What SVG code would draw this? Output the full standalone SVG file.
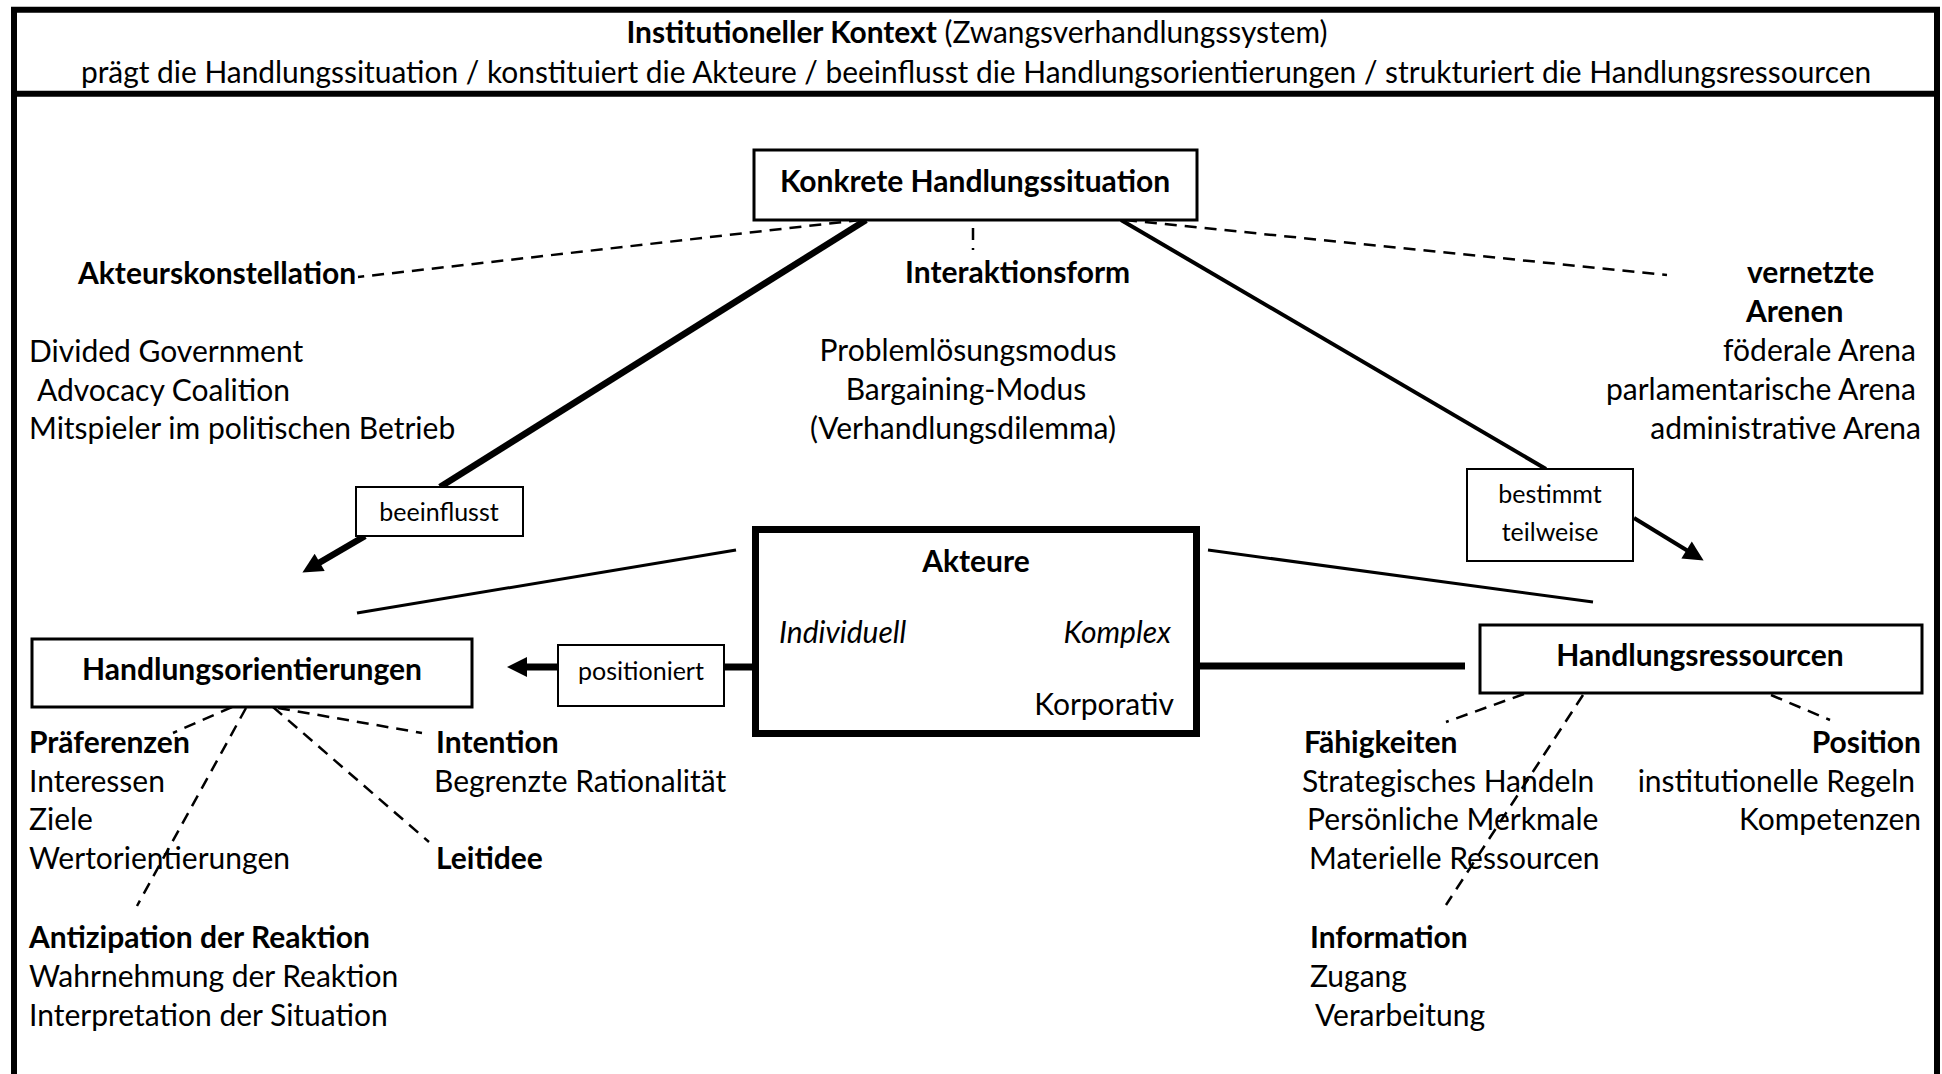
<svg xmlns="http://www.w3.org/2000/svg" width="1942" height="1074" viewBox="0 0 1942 1074">
<style>
text{font-family:Lato,"Liberation Sans",sans-serif;font-size:30px;fill:#000}
.b{font-weight:bold}
.i{font-style:italic}
.h{font-size:29.9px}
.s{font-size:25px}
.m{text-anchor:middle}
.e{text-anchor:end}
.box{fill:#fff;stroke:#000;stroke-width:3}
.lab{fill:#fff;stroke:#000;stroke-width:2}
.ln{fill:none;stroke:#000}
.d{fill:none;stroke:#000;stroke-width:2.5;stroke-dasharray:12 8}
</style>
<defs>
<marker id="ah" viewBox="0 0 10 10" refX="3" refY="5" markerWidth="24" markerHeight="20" markerUnits="userSpaceOnUse" orient="auto">
<path d="M0,0 L10,5 L0,10 z" fill="#000"/>
</marker>
</defs>
<rect width="1942" height="1074" fill="#fff"/>
<g id="frame">
<path class="ln" stroke-width="6" d="M14,1080 V9.7 H1937 V1080"/>
<line class="ln" stroke-width="6" x1="14" y1="93.7" x2="1937" y2="93.7"/>
<text class="h m" x="977" y="43"><tspan class="b">Institutioneller Kontext</tspan> (Zwangsverhandlungssystem)</text>
<text class="h m" x="976" y="83">prägt die Handlungssituation / konstituiert die Akteure / beeinflusst die Handlungsorientierungen / strukturiert die Handlungsressourcen</text>
</g>
<g id="connectors">
<line class="ln" stroke-width="6.5" x1="866" y1="220" x2="440" y2="487"/>
<line class="ln" stroke-width="6.5" x1="365" y1="536" x2="314.5" y2="565.5" marker-end="url(#ah)"/>
<line class="ln" stroke-width="4" x1="1121" y1="220" x2="1546" y2="469"/>
<line class="ln" stroke-width="4" x1="1634" y1="518" x2="1691.7" y2="553.2" marker-end="url(#ah)"/>
<line class="ln" stroke-width="7" x1="752" y1="667" x2="724" y2="667"/>
<line class="ln" stroke-width="7" x1="557" y1="667" x2="521" y2="667" marker-end="url(#ah)"/>
<line class="ln" stroke-width="7" x1="1200" y1="666" x2="1465" y2="666"/>
<line class="ln" stroke-width="3" x1="736" y1="550" x2="357" y2="613"/>
<line class="ln" stroke-width="3" x1="1208" y1="550" x2="1593" y2="602"/>
<line class="d" x1="861" y1="220" x2="358" y2="277"/>
<line class="d" x1="1125" y1="220" x2="1667" y2="275"/>
<line class="d" x1="973" y1="228" x2="973" y2="250"/>
<line class="d" x1="232" y1="707" x2="173" y2="733"/>
<line class="d" x1="246" y1="708" x2="137" y2="906"/>
<line class="d" x1="273" y1="707" x2="429" y2="842"/>
<line class="d" x1="278" y1="708" x2="422" y2="733"/>
<line class="d" x1="1524" y1="694" x2="1446" y2="722"/>
<line class="d" x1="1583" y1="695" x2="1446" y2="905"/>
<line class="d" x1="1771" y1="695" x2="1830" y2="720"/>
</g>
<g id="handlungssituation">
<rect class="box" x="754" y="150" width="443" height="70"/>
<text class="b m" x="975" y="192">Konkrete Handlungssituation</text>
</g>
<g id="akteurskonstellation">
<text class="b" x="78" y="284">Akteurskonstellation</text>
<text x="29" y="362">Divided Government</text>
<text x="37" y="401">Advocacy Coalition</text>
<text x="29" y="439">Mitspieler im politischen Betrieb</text>
</g>
<g id="interaktionsform">
<text class="b" x="905" y="283">Interaktionsform</text>
<text class="m" x="968" y="361">Problemlösungsmodus</text>
<text class="m" x="966" y="400">Bargaining-Modus</text>
<text class="m" x="963" y="439">(Verhandlungsdilemma)</text>
</g>
<g id="arenen">
<text class="b" x="1747" y="283">vernetzte</text>
<text class="b" x="1746" y="322">Arenen</text>
<text class="e" x="1916" y="361">föderale Arena</text>
<text class="e" x="1916" y="400">parlamentarische Arena</text>
<text class="e" x="1921" y="439">administrative Arena</text>
</g>
<g id="label-beeinflusst">
<rect class="lab" x="356" y="487" width="167" height="49"/>
<text class="s m" x="439" y="521">beeinflusst</text>
</g>
<g id="label-bestimmt">
<rect class="lab" x="1467" y="469" width="166" height="92"/>
<text class="s m" x="1550" y="503">bestimmt</text>
<text class="s m" x="1550" y="541">teilweise</text>
</g>
<g id="label-positioniert">
<rect class="lab" x="558" y="645" width="166" height="61"/>
<text class="s m" x="641" y="680">positioniert</text>
</g>
<g id="akteure">
<rect fill="#fff" stroke="#000" stroke-width="7" x="755.5" y="529.5" width="441" height="204"/>
<text class="b m" x="976" y="572">Akteure</text>
<text class="i" x="779" y="643">Individuell</text>
<text class="i e" x="1171" y="643">Komplex</text>
<text class="e" x="1174" y="715">Korporativ</text>
</g>
<g id="handlungsorientierungen">
<rect class="box" x="32" y="639" width="440" height="68"/>
<text class="b m" x="252" y="680">Handlungsorientierungen</text>
</g>
<g id="handlungsressourcen">
<rect class="box" x="1480" y="625" width="442" height="68"/>
<text class="b m" x="1700" y="666">Handlungsressourcen</text>
</g>
<g id="praeferenzen">
<text class="b" x="29" y="753">Präferenzen</text>
<text x="29" y="792">Interessen</text>
<text x="29" y="830">Ziele</text>
<text x="29" y="869">Wertorientierungen</text>
</g>
<g id="antizipation">
<text class="b" x="29" y="948">Antizipation der Reaktion</text>
<text x="29" y="987">Wahrnehmung der Reaktion</text>
<text x="29" y="1026">Interpretation der Situation</text>
</g>
<g id="intention">
<text class="b" x="436" y="753">Intention</text>
<text x="434" y="792">Begrenzte Rationalität</text>
</g>
<g id="leitidee">
<text class="b" x="436" y="869">Leitidee</text>
</g>
<g id="faehigkeiten">
<text class="b" x="1304" y="753">Fähigkeiten</text>
<text x="1302" y="792">Strategisches Handeln</text>
<text x="1307" y="830">Persönliche Merkmale</text>
<text x="1309" y="869">Materielle Ressourcen</text>
</g>
<g id="information">
<text class="b" x="1310" y="948">Information</text>
<text x="1310" y="987">Zugang</text>
<text x="1315" y="1026">Verarbeitung</text>
</g>
<g id="position">
<text class="b e" x="1921" y="753">Position</text>
<text class="e" x="1915" y="792">institutionelle Regeln</text>
<text class="e" x="1921" y="830">Kompetenzen</text>
</g>
</svg>
